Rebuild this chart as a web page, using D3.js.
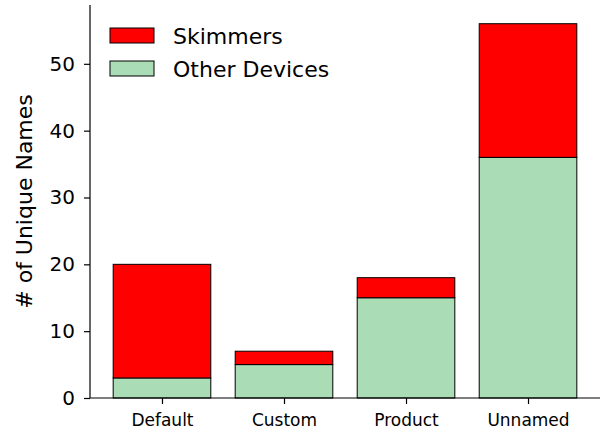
<!DOCTYPE html>
<html>
<head>
<meta charset="utf-8">
<script src="https://cdn.jsdelivr.net/npm/d3@7"></script>
<style>
  body { margin: 0; background: #fff; }
  svg { display: block; }
  svg text { font-family: "DejaVu Sans", sans-serif; }
</style>
</head>
<body>
<div id="chart"></div>
<script>
// chart data
const categories = ['Default', 'Custom', 'Product', 'Unnamed'];
const otherDevices = [3, 5, 15, 36];
const skimmers = [17, 2, 3, 20];
const yTicks = [0, 10, 20, 30, 40, 50];
const seriesNames = ['Skimmers', 'Other Devices'];
const seriesColors = ['#ff0000', '#aadcb5'];

const width = 600;
const height = 433;
const margin = { top: 5, right: 0, bottom: 35, left: 90 };

const svg = d3
  .select('#chart')
  .append('svg')
  .attr('width', width)
  .attr('height', height);

const totals = categories.map((c, i) => otherDevices[i] + skimmers[i]);
const ymax = d3.max(totals) * 1.05;

// matplotlib-like x: index positions with 0.8 bar width and 5% margins
const n = categories.length;
const x = d3
  .scaleLinear()
  .domain([-0.4 - 0.05 * (n - 0.2), n - 0.6 + 0.05 * (n - 0.2)])
  .range([margin.left, width - margin.right]);
const y = d3
  .scaleLinear()
  .domain([0, ymax])
  .range([height - margin.bottom, margin.top]);

const barW = 0.8;

const rows = categories.map((c, i) => ({
  cat: c,
  i,
  other: otherDevices[i],
  skim: skimmers[i],
}));

const g = svg.append('g');

// other devices (bottom)
g.selectAll('rect.other')
  .data(rows)
  .enter()
  .append('rect')
  .attr('class', 'other')
  .attr('x', (d) => x(d.i - barW / 2))
  .attr('width', (d) => x(d.i + barW / 2) - x(d.i - barW / 2))
  .attr('y', (d) => y(d.other))
  .attr('height', (d) => y(0) - y(d.other))
  .attr('fill', seriesColors[1])
  .attr('stroke', '#000')
  .attr('stroke-width', 1);

// skimmers (top)
g.selectAll('rect.skim')
  .data(rows)
  .enter()
  .append('rect')
  .attr('class', 'skim')
  .attr('x', (d) => x(d.i - barW / 2))
  .attr('width', (d) => x(d.i + barW / 2) - x(d.i - barW / 2))
  .attr('y', (d) => y(d.other + d.skim))
  .attr('height', (d) => y(d.other) - y(d.other + d.skim))
  .attr('fill', seriesColors[0])
  .attr('stroke', '#000')
  .attr('stroke-width', 1);

// y axis
const yAxis = svg
  .append('g')
  .attr('transform', `translate(${margin.left},0)`)
  .call(d3.axisLeft(y).tickValues(yTicks).tickSize(6).tickPadding(9));
yAxis.attr('font-family', null);
yAxis.select('.domain').attr('stroke-width', 1.2).attr('d', `M0,${y(ymax)}V${y(0)}`);
yAxis.selectAll('.tick line').attr('stroke-width', 1.2);
yAxis.selectAll('text').style('font-size', '20px').attr('fill', '#000');

// x axis
const xAxis = svg
  .append('g')
  .attr('transform', `translate(0,${y(0)})`)
  .call(
    d3
      .axisBottom(x)
      .tickValues(d3.range(n))
      .tickFormat((d) => categories[d])
      .tickSize(6)
      .tickPadding(10),
  );
xAxis.attr('font-family', null);
xAxis.select('.domain').attr('stroke-width', 1.2).attr('d', `M${margin.left},0H${width}`);
xAxis.selectAll('.tick line').attr('stroke-width', 1.2);
xAxis.selectAll('text').style('font-size', '17px').attr('fill', '#000');

// y label
svg
  .append('text')
  .attr('text-anchor', 'middle')
  .attr('transform', `translate(32,${(y(0) + y(ymax)) / 2}) rotate(-90)`)
  .style('font-size', '22px')
  .text('# of Unique Names');

// legend
const legend = svg.append('g').attr('transform', 'translate(110,28)');
seriesNames.forEach((name, i) => {
  const row = legend.append('g').attr('transform', `translate(0,${i * 33})`);
  row
    .append('rect')
    .attr('width', 44)
    .attr('height', 15)
    .attr('fill', seriesColors[i])
    .attr('stroke', '#000')
    .attr('stroke-width', 1);
  row
    .append('text')
    .attr('x', 63)
    .attr('y', 8)
    .attr('dy', '0.35em')
    .style('font-size', '22px')
    .text(name);
});
</script>
</body>
</html>
